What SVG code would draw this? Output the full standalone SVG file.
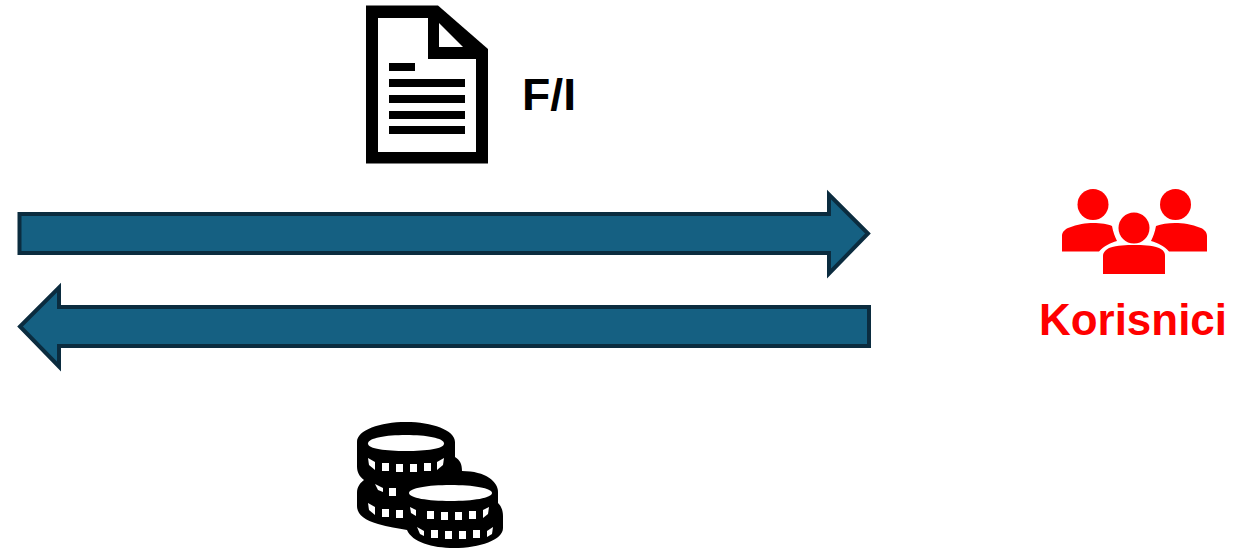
<svg xmlns="http://www.w3.org/2000/svg" width="1246" height="548" viewBox="0 0 1246 548">
<style>
.arrow{fill:#156082;stroke:#0b2c3f;stroke-width:4;stroke-miterlimit:10}
.k{fill:#000}.w{fill:#fff}
.t{font-family:"Liberation Sans",Arial,sans-serif;font-weight:700}
.r{fill:#f00}
</style>
<rect width="1246" height="548" fill="#fff"/>
<g id="connectors">
<path class="arrow" d="M19.500 214H829V194.500L868 233.500L829 273.500V253H19.500Z"/>
<path class="arrow" d="M869 307H59V287.500L20 326.500L59 366.500V346H869Z"/>
</g>
<g id="document">
<path class="k" d="M366 5.500H438L488 49V163.500H366Z"/>
<path class="w" d="M378 18H428V59H476V152H378Z"/>
<path class="w" d="M439 23L463 47H439Z"/>
<rect class="k" x="389" y="63" width="26" height="8"/>
<rect class="k" x="389" y="79" width="76" height="8"/>
<rect class="k" x="389" y="95" width="76" height="8"/>
<rect class="k" x="389" y="111" width="76" height="8"/>
<rect class="k" x="389" y="126" width="76" height="8"/>
</g>
<g id="fi-label"><text class="t" x="522" y="109.500" font-size="44" fill="#000" textLength="54" lengthAdjust="spacingAndGlyphs">F/I</text></g>
<g id="users">
<circle class="r" cx="1093" cy="204.500" r="15.500"/>
<circle class="r" cx="1175.500" cy="204.500" r="15.500"/>
<circle class="r" cx="1134" cy="228" r="15.500"/>
<path class="r" d="M1062 251.500V236C1062 232 1065 229.500 1068 228C1078 224 1086 223 1093 223C1101 223 1108 224 1112 226C1113 232 1115 237 1117 241C1110 243 1104 246 1099 251.500Z"/>
<path class="r" d="M1207 251.500V236C1207 232 1204 229.500 1201 228C1191 224 1183 223 1175 223C1168 223 1161 224 1156 226C1155 232 1153 237 1151 241C1158 243 1164 246 1169 251.500Z"/>
<path class="r" d="M1103 274V256C1103 252 1106 250 1109 248C1118 245 1126 245 1134 245C1143 245 1151 245 1159 248C1163 250 1165 252 1165 256V274Z"/>
</g>
<g id="users-label"><text class="r t" x="1039" y="335" font-size="44" textLength="188" lengthAdjust="spacingAndGlyphs">Korisnici</text></g>
<g id="coins">
<path class="k" d="M357 442C357 430 380 422 406 422C432 422 455 430 455 442V457C460 460 462 464 462 471C486 471 498 482 498 492V503C501 506 503 510 503 516V528C503 540 480 548 454 548C432 548 412 542 407 530C398 528 388 527 378 524C364 520 357 514 357 506V493C357 487 360 483 364 480C359 476 357 472 357 466Z"/>
<path class="w" d="M368 443.500C368 438 386 435 406 435C426 435 444 438 444 443.500C444 449 426 451 406 451C386 451 368 449 368 443.500Z"/>
<path class="w" d="M409 493C409 488 428 485 450.500 485C473 485 492 488 492 493C492 498 473 501 450.500 501C428 501 409 498 409 493Z"/>
<g class="w">
<path d="M368 458L375 462V470L369 465Z"/><rect x="382" y="463" width="7" height="8"/><rect x="396" y="464" width="7" height="8"/><rect x="410" y="464" width="7" height="8"/><rect x="424" y="463" width="7" height="8"/><path d="M437 462L444 458L443 465L437 470Z"/>
<path d="M375 484L383 488V492L378 490Z"/><rect x="389" y="488" width="7" height="8"/>
<path d="M368 503L375 507V515L369 510Z"/><rect x="382" y="509" width="7" height="8"/><rect x="396" y="510" width="7" height="8"/>
<path d="M410 507L416 510V516L411 513Z"/><rect x="427" y="511" width="7" height="8"/><rect x="441" y="512" width="7" height="8"/><rect x="455" y="512" width="7" height="8"/><rect x="469" y="511" width="7" height="8"/><path d="M483 510L489 507L488 514L483 518Z"/>
<path d="M417 527L424 531V536L420 534Z"/><rect x="431" y="530" width="7" height="8"/><rect x="445" y="531" width="7" height="8"/><rect x="459" y="531" width="7" height="8"/><rect x="473" y="530" width="7" height="8"/><path d="M487 531L493 527L492 534L487 537Z"/>
</g>
</g>
</svg>
